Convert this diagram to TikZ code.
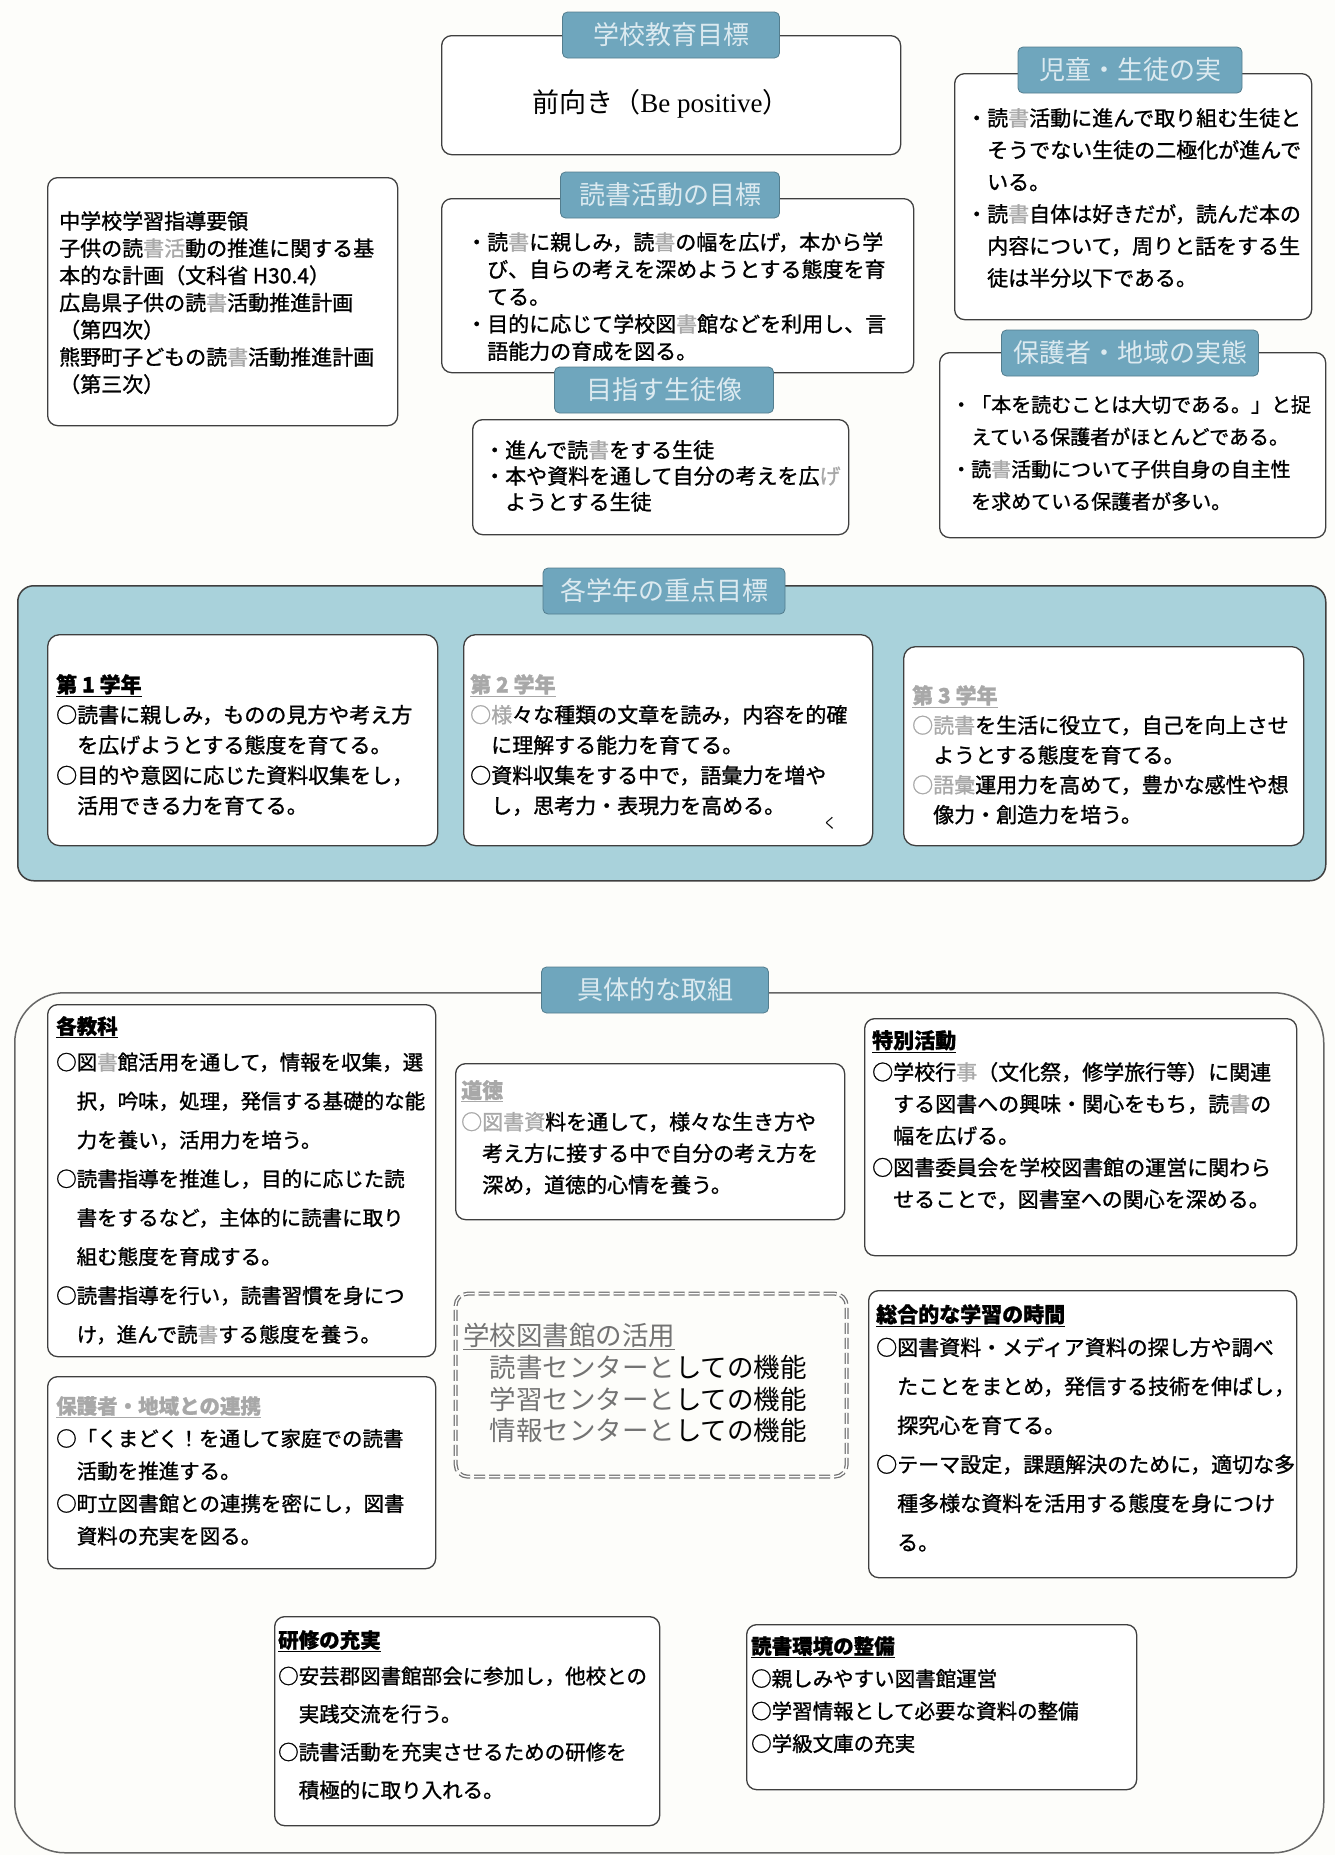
\documentclass[tikz,border=0pt]{standalone}
\usepackage{fontspec}
\setmainfont{Noto Sans CJK JP}[FakeBold=1.2]
\newfontfamily\lightjp{Noto Sans CJK JP}
\newfontfamily\latinserif{Liberation Serif}
\definecolor{tabblue}{HTML}{6FA6BD}
\definecolor{tabtxt}{HTML}{DCEAF0}
\definecolor{panelfill}{HTML}{A9D2DB}
\definecolor{boxline}{HTML}{3F3F3F}
\definecolor{hl}{HTML}{A8A8A8}
\definecolor{paper}{HTML}{FDFDFA}
\newcommand\gs[1]{\textcolor{hl}{#1}}
\newcommand\fsz[2]{\fontsize{#1}{#2}\selectfont}
\pgfdeclarelayer{bg}
\pgfsetlayers{bg,main}
\tikzset{
  box/.style={draw=boxline, line width=1.3pt, rounded corners=10pt, fill=white, anchor=north west, inner sep=0pt},
  tabnode/.style={fill=tabblue, draw=tabblue!75!black, line width=0.8pt, rounded corners=5pt, text=tabtxt, font=\lightjp\fsz{26}{30}, inner sep=0pt, minimum height=46pt},
  txt/.style={anchor=north west, inner sep=0pt, align=left},
  conn/.style={draw=black!55, line width=1pt},
}
\begin{document}
\begin{tikzpicture}[x=1pt, y=-1pt]
\useasboundingbox (0,0) rectangle (1335,1855);
\fill[paper] (0,0) rectangle (1335,1855);

% ---------- top section ----------
\node[box, minimum width=459pt, minimum height=119pt] (mae) at (441,35) {};
\node[inner sep=0pt, font=\lightjp\fsz{27}{30}] (maet) at (661,104) {前向き（{\latinserif Be positive}）};
\node[tabnode, minimum width=217pt] (schooltab) at (671,35) {学校教育目標};

\node[box, minimum width=472pt, minimum height=174pt] (goal) at (441,198) {};
\node[tabnode, minimum width=219pt] (goaltab) at (670,195) {読書活動の目標};
\node[txt, font=\fsz{21}{27.3}] (goalt) at (466,232) {・読\gs{書}に親しみ，読\gs{書}の幅を広げ，本から学\\　び、自らの考えを深めようとする態度を育\\　てる。\\・目的に応じて学校図\gs{書}館などを利用し、言\\　語能力の育成を図る。};

\node[tabnode, minimum width=219pt] (mezasutab) at (664,390) {目指す生徒像};
\node[box, minimum width=376pt, minimum height=115pt] (mezasu) at (472,419) {};
\node[txt, font=\fsz{21}{26}] (mezasut) at (484,440) {・進んで読\gs{書}をする生徒\\・本や資料を通して自分の考えを広\gs{げ}\\　ようとする生徒};

\node[box, minimum width=350pt, minimum height=248pt] (src) at (47,177) {};
\node[txt, font=\fsz{21}{27.2}] (srct) at (59,211) {中学校学習指導要領\\子供の読\gs{書}\gs{活}動の推進に関する基\\本的な計画（文科省 H30.4）\\広島県子供の読\gs{書}活動推進計画\\（第四次）\\熊野町子どもの読\gs{書}活動推進計画\\（第三次）};

\node[box, minimum width=357pt, minimum height=246pt] (jidou) at (954,73) {};
\node[tabnode, minimum width=224pt] (jidoutab) at (1130,70) {児童・生徒の実};
\node[txt, font=\fsz{21}{32}] (jidout) at (966,108) {・読\gs{書}活動に進んで取り組む生徒と\\　そうでない生徒の二極化が進んで\\　いる。\\・読\gs{書}自体は好きだが，読んだ本の\\　内容について，周りと話をする生\\　徒は半分以下である。};

\node[box, minimum width=386pt, minimum height=185pt] (hogo) at (939,352) {};
\node[tabnode, minimum width=257pt] (hogotab) at (1130,353) {保護者・地域の実態};
\node[txt, font=\fsz{20}{32.3}] (hogot) at (951,395) {・「本を読むことは大切である。」と捉\\　えている保護者がほとんどである。\\・読\gs{書}活動について子供自身の自主性\\　を求めている保護者が多い。};

% ---------- grade panel ----------
\node[draw=boxline, line width=1.5pt, fill=panelfill, rounded corners=16pt, minimum width=1308pt, minimum height=295pt, anchor=north west, inner sep=0pt] (panel) at (17,585) {};
\node[tabnode, minimum width=242pt] (paneltab) at (664,591) {各学年の重点目標};

\node[box, rounded corners=12pt, minimum width=390pt, minimum height=211pt] (g1) at (47,634) {};
\node[txt, font=\fsz{21}{30.3}] (g1t) at (56,674) {\underline{\textbf{第 1 学年}}\\○読書に親しみ，ものの見方や考え方\\　を広げようとする態度を育てる。\\○目的や意図に応じた資料収集をし，\\　活用できる力を育てる。};

\node[box, rounded corners=12pt, minimum width=409pt, minimum height=211pt] (g2) at (463,634) {};
\node[txt, font=\fsz{21}{30.3}] (g2t) at (470,674) {\gs{\underline{\textbf{第 2 学年}}}\\\gs{○様}々な種類の文章を読み，内容を的確\\　に理解する能力を育てる。\\○資料収集をする中で，語彙力を増や\\　し，思考力・表現力を高める。};
\node[inner sep=0pt, font=\lightjp\fsz{14}{16}] (stray) at (830,823) {く};

\node[box, rounded corners=12pt, minimum width=400pt, minimum height=199pt] (g3) at (903,646) {};
\node[txt, font=\fsz{21}{29.8}] (g3t) at (912,685) {\gs{\underline{\textbf{第 3 学年}}}\\\gs{○読書}を生活に役立て，自己を向上させ\\　ようとする態度を育てる。\\\gs{○語彙}運用力を高めて，豊かな感性や想\\　像力・創造力を培う。};

% ---------- concrete measures ----------
\node[draw=black!60, line width=1.5pt, rounded corners=50pt, fill=paper, minimum width=1309pt, minimum height=860pt, anchor=north west, inner sep=0pt] (outer) at (14,992) {};
\node[tabnode, minimum width=227pt] (gutaitab) at (655,990) {具体的な取組};

\node[box, minimum width=388pt, minimum height=352pt] (kyouka) at (47,1004) {};
\node[txt, font=\fsz{20.5}{38.9}] (kyoukat) at (56,1016) {\underline{\textbf{各教科}}\\[-3pt]○図\gs{書}館活用を通して，情報を収集，選\\　択，吟味，処理，発信する基礎的な能\\　力を養い，活用力を培う。\\○読書指導を推進し，目的に応じた読\\　書をするなど，主体的に読書に取り\\　組む態度を育成する。\\○読書指導を行い，読書習慣を身につ\\　け，進んで読\gs{書}する態度を養う。};

\node[box, minimum width=388pt, minimum height=192pt] (renkei) at (47,1376) {};
\node[txt, font=\fsz{20.5}{32.5}] (renkeit) at (56,1396) {\gs{\underline{\textbf{保護者・地域との連携}}}\\○「くまどく！を通して家庭での読書\\　活動を推進する。\\○町立図書館との連携を密にし，図書\\　資料の充実を図る。};

\node[box, minimum width=389pt, minimum height=156pt] (doutoku) at (455,1063) {};
\node[txt, font=\fsz{21}{31.5}] (doutokut) at (461,1080) {\gs{\underline{\textbf{道徳}}}\\\gs{○図書資}料を通して，様々な生き方や\\　考え方に接する中で自分の考え方を\\　深め，道徳的心情を養う。};

\node[draw=black!55, line width=1.3pt, double=white, double distance=1.4pt, dash pattern=on 11pt off 4pt, rounded corners=12pt, minimum width=391pt, minimum height=183pt, anchor=north west, inner sep=0pt] (katsuyou) at (455,1293) {};
\node[txt, font=\lightjp\fsz{26.5}{31.7}, text=black!55] (katsuyout) at (463,1323) {\underline{学校図書館の活用}\\　読書センターと\textcolor{black}{しての機能}\\　学習センターと\textcolor{black}{しての機能}\\　情報センターと\textcolor{black}{しての機能}};

\node[box, minimum width=432pt, minimum height=237pt] (tokkatsu) at (864,1018) {};
\node[txt, font=\fsz{21}{31.8}] (tokkatsut) at (872,1030) {\underline{\textbf{特別活動}}\\○学校行\gs{事}（文化祭，修学旅行等）に関連\\　する図書への興味・関心をもち，読\gs{書}の\\　幅を広げる。\\○図書委員会を学校図書館の運営に関わら\\　せることで，図書室への関心を深める。};

\node[box, minimum width=428pt, minimum height=287pt] (sougou) at (868,1290) {};
\node[txt, font=\fsz{21}{39}] (sougout) at (876,1304) {\underline{\textbf{総合的な学習の時間}}\\[-6pt]○図書資料・メディア資料の探し方や調べ\\　たことをまとめ，発信する技術を伸ばし，\\　探究心を育てる。\\○テーマ設定，課題解決のために，適切な多\\　種多様な資料を活用する態度を身につけ\\　る。};

\node[box, minimum width=385pt, minimum height=209pt] (kenshu) at (274,1616) {};
\node[txt, font=\fsz{20.5}{38}] (kenshut) at (278,1630) {\underline{\textbf{研修の充実}}\\[-2pt]○安芸郡図書館部会に参加し，他校との\\　実践交流を行う。\\○読書活動を充実させるための研修を\\　積極的に取り入れる。};

\node[box, minimum width=390pt, minimum height=165pt] (kankyou) at (746,1624) {};
\node[txt, font=\fsz{20.5}{32.5}] (kankyout) at (751,1636) {\underline{\textbf{読書環境の整備}}\\○親しみやすい図書館運営\\○学習情報として必要な資料の整備\\○学級文庫の充実};

% ---------- connectors ----------
\coordinate (cj) at (0,250);
\coordinate (ch) at (0,354);
\begin{pgfonlayer}{bg}
\draw[conn] (mae.south) -- (goaltab.north);
\draw[conn] (src.east |- goal.west) -- (goal.west);
\draw[conn] (goal.east |- cj) -- (jidou.west |- cj);
\draw[conn] (goal.east |- ch) -- (hogo.west |- ch);
\draw[conn] (mezasu.south) -- (paneltab.north);
\draw[conn] (panel.south) -- (gutaitab.north);
\end{pgfonlayer}
\end{tikzpicture}
\end{document}
